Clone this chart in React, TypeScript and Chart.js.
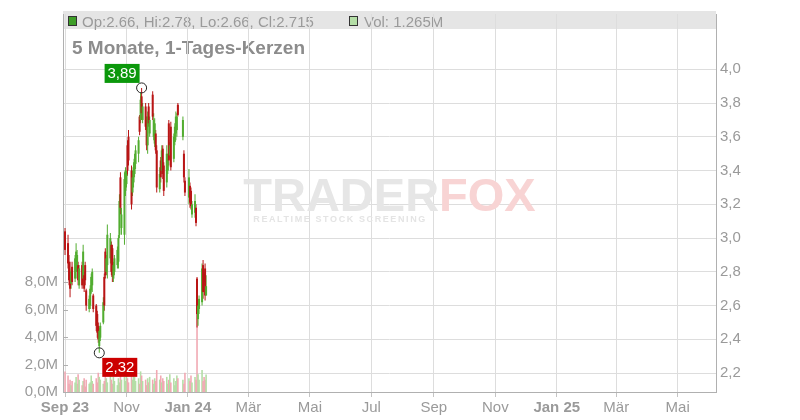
import React, { useEffect, useRef } from "react";
import { Chart, registerables } from "chart.js";

Chart.register(...registerables);

const FONT = "'Liberation Sans', Arial, Helvetica, sans-serif";

const dates = [
  "2023-09-01","2023-09-04","2023-09-05","2023-09-06","2023-09-07","2023-09-08","2023-09-11","2023-09-12","2023-09-13","2023-09-14","2023-09-15","2023-09-18","2023-09-19","2023-09-20","2023-09-21","2023-09-22","2023-09-25","2023-09-26","2023-09-27","2023-09-28","2023-09-29",
  "2023-10-02","2023-10-03","2023-10-04","2023-10-05","2023-10-06","2023-10-09","2023-10-10","2023-10-11","2023-10-12","2023-10-13","2023-10-16","2023-10-17","2023-10-18","2023-10-19","2023-10-20","2023-10-23","2023-10-24","2023-10-25","2023-10-26","2023-10-27","2023-10-30","2023-10-31",
  "2023-11-01","2023-11-02","2023-11-03","2023-11-06","2023-11-07","2023-11-08","2023-11-09","2023-11-10","2023-11-13","2023-11-14","2023-11-15","2023-11-16","2023-11-17","2023-11-20","2023-11-21","2023-11-22","2023-11-23","2023-11-24","2023-11-27","2023-11-28","2023-11-29","2023-11-30",
  "2023-12-01","2023-12-04","2023-12-05","2023-12-06","2023-12-07","2023-12-08","2023-12-11","2023-12-12","2023-12-13","2023-12-14","2023-12-15","2023-12-18","2023-12-19","2023-12-20","2023-12-21","2023-12-22","2023-12-27","2023-12-28","2023-12-29",
  "2024-01-02","2024-01-03","2024-01-04","2024-01-05","2024-01-08","2024-01-09","2024-01-10","2024-01-11","2024-01-12","2024-01-15","2024-01-16","2024-01-17","2024-01-18","2024-01-19",
];

const opens = [
  3.04, 2.97, 2.86, 2.80, 2.73, 2.83, 2.76, 2.80, 2.82, 2.84, 2.72, 2.84, 2.76, 2.78, 2.84, 2.69, 2.58, 2.60, 2.69, 2.72, 2.66,
  2.60, 2.55, 2.48, 2.36, 2.41, 2.50, 2.77, 2.92, 2.80, 2.84, 2.88, 2.96, 2.94, 2.76, 2.80, 2.84, 2.86, 3.02, 3.36, 3.06, 3.02, 3.28,
  3.32, 3.55, 3.60, 3.40, 3.27, 3.33, 3.38, 3.44, 3.50, 3.72, 3.70, 3.84, 3.70, 3.78, 3.70, 3.55, 3.78, 3.62, 3.85, 3.60, 3.56, 3.62,
  3.52, 3.29, 3.46, 3.40, 3.53, 3.43, 3.33, 3.40, 3.68, 3.49, 3.66, 3.47, 3.57, 3.62, 3.64, 3.79, 3.60, 3.50, 3.34,
  3.24, 3.31, 3.28, 3.14, 3.15, 3.18, 2.76, 2.52, 2.58, 2.62, 2.84, 2.79, 2.82, 2.66,
];
const highs = [
  3.06, 3.02, 2.90, 2.86, 2.82, 2.86, 2.90, 2.97, 2.93, 2.86, 2.84, 2.86, 2.96, 2.80, 2.86, 2.70, 2.66, 2.72, 2.79, 2.82, 2.67,
  2.61, 2.57, 2.50, 2.47, 2.50, 2.65, 2.79, 2.94, 2.90, 3.08, 3.03, 2.98, 2.96, 2.86, 2.90, 2.95, 3.02, 3.26, 3.39, 3.18, 3.39, 3.42,
  3.40, 3.58, 3.64, 3.43, 3.40, 3.45, 3.50, 3.55, 3.60, 3.73, 3.86, 3.89, 3.80, 3.80, 3.72, 3.75, 3.80, 3.72, 3.87, 3.74, 3.71, 3.64,
  3.55, 3.42, 3.48, 3.55, 3.55, 3.45, 3.55, 3.50, 3.70, 3.57, 3.69, 3.62, 3.68, 3.75, 3.74, 3.80, 3.72, 3.52, 3.36,
  3.41, 3.33, 3.30, 3.22, 3.26, 3.20, 2.77, 2.63, 2.66, 2.85, 2.87, 2.80, 2.85, 2.78,
];
const lows = [
  2.90, 2.82, 2.72, 2.65, 2.70, 2.72, 2.74, 2.76, 2.80, 2.72, 2.70, 2.70, 2.72, 2.68, 2.72, 2.57, 2.56, 2.58, 2.67, 2.68, 2.56,
  2.45, 2.41, 2.38, 2.32, 2.39, 2.49, 2.57, 2.76, 2.78, 2.76, 2.85, 2.78, 2.74, 2.74, 2.78, 2.82, 2.82, 3.00, 3.14, 3.02, 2.96, 3.25,
  3.30, 3.37, 3.43, 3.17, 3.25, 3.30, 3.36, 3.41, 3.45, 3.61, 3.68, 3.70, 3.68, 3.64, 3.52, 3.50, 3.66, 3.60, 3.70, 3.58, 3.54, 3.50,
  3.27, 3.27, 3.33, 3.38, 3.35, 3.25, 3.30, 3.38, 3.43, 3.47, 3.40, 3.45, 3.55, 3.58, 3.60, 3.72, 3.58, 3.33, 3.25,
  3.20, 3.18, 3.17, 3.12, 3.12, 3.07, 2.47, 2.48, 2.55, 2.60, 2.64, 2.72, 2.63, 2.66,
];
const closes = [
  2.93, 2.85, 2.75, 2.70, 2.80, 2.74, 2.88, 2.92, 2.90, 2.75, 2.82, 2.72, 2.92, 2.70, 2.75, 2.60, 2.64, 2.70, 2.77, 2.80, 2.58,
  2.48, 2.44, 2.40, 2.45, 2.48, 2.62, 2.60, 2.78, 2.88, 3.02, 3.00, 2.80, 2.77, 2.84, 2.88, 2.93, 3.00, 3.22, 3.18, 3.14, 3.35, 3.40,
  3.38, 3.40, 3.46, 3.20, 3.36, 3.42, 3.47, 3.52, 3.58, 3.63, 3.82, 3.74, 3.78, 3.66, 3.55, 3.72, 3.68, 3.70, 3.72, 3.70, 3.68, 3.52,
  3.30, 3.38, 3.36, 3.52, 3.38, 3.28, 3.50, 3.47, 3.46, 3.55, 3.42, 3.60, 3.66, 3.72, 3.72, 3.73, 3.70, 3.36, 3.27,
  3.36, 3.21, 3.19, 3.20, 3.22, 3.09, 2.55, 2.60, 2.64, 2.82, 2.68, 2.74, 2.66, 2.715,
];
// volume in millions
const volumes = [
  1.5, 1.2, 0.6, 0.9, 0.5, 0.8, 0.7, 1.1, 0.6, 1.3, 0.9, 0.5, 0.8, 1.0, 0.4, 0.9, 0.6, 0.7, 1.2, 0.8, 0.6,
  1.0, 0.7, 1.4, 1.1, 0.9, 0.6, 0.8, 1.2, 1.0, 0.7, 1.3, 0.9, 0.6, 1.1, 0.8, 0.5, 1.0, 0.7, 1.2, 0.9, 1.1, 0.8,
  1.4, 1.0, 0.7, 1.2, 0.9, 1.3, 1.1, 0.8, 1.0, 0.6, 1.5, 1.2, 0.8, 0.9, 0.5, 1.0, 0.7, 1.1, 0.9, 0.6, 1.0, 0.8,
  1.6, 0.9, 1.2, 0.7, 1.0, 0.8, 1.1, 0.6, 0.9, 1.3, 0.7, 1.0, 0.5, 0.8, 1.2, 1.0, 0.9, 0.6, 1.4,
  1.0, 0.8, 1.2, 0.7, 1.1, 0.9, 6.5, 1.3, 0.9, 1.6, 0.8, 1.1, 0.9, 1.265,
];

const priceTicks = [2.2, 2.4, 2.6, 2.8, 3.0, 3.2, 3.4, 3.6, 3.8, 4.0];
const volumeTicks = [0, 2, 4, 6, 8];
const monthTickDates = ["2023-09-01","2023-11-01","2024-01-01","2024-03-01","2024-05-01","2024-07-01","2024-09-01","2024-11-01","2025-01-01","2025-03-01","2025-05-01"];
const monthLabels = ["Sep 23","Nov","Jan 24","Mär","Mai","Jul","Sep","Nov","Jan 25","Mär","Mai"];
const TITLE = "5 Monate, 1-Tages-Kerzen";

const X_START = "2023-08-30";
const X_END = "2025-06-08";
const P_MIN = 2.088;
const P_MAX = 4.328;
const VOL_MAX = 27.5;

const UP = "#52ad30";
const DOWN = "#b91515";
const VUP = "#b4dea6";
const VDOWN = "#f1a9b3";

function dayOf(s: string) {
  const [y, m, d] = s.split("-").map(Number);
  return (Date.UTC(y, m - 1, d) - Date.UTC(2023, 8, 1)) / 86400000;
}

function fmtDe(v: number, n: number) {
  return v.toFixed(n).replace(".", ",");
}

export default function App() {
  const ref = useRef<HTMLCanvasElement | null>(null);

  useEffect(() => {
    document.body.style.margin = "0";
    const days = dates.map(dayOf);
    const up = opens.map((o, i) => closes[i] >= o);
    const last = dates.length - 1;

    const overlay = {
      id: "overlay",
      beforeDraw(chart: any) {
        const { ctx, chartArea: a } = chart;
        ctx.save();
        ctx.fillStyle = "#e5e5e5";
        ctx.fillRect(a.left, 11, a.right - a.left, 18);
        ctx.fillStyle = up[last] ? "#3e9e28" : DOWN;
        ctx.fillRect(68.5, 16.5, 8, 9);
        ctx.strokeStyle = "#333";
        ctx.lineWidth = 1;
        ctx.strokeRect(68.5, 16.5, 8, 9);
        ctx.fillStyle = up[last] ? VUP : VDOWN;
        ctx.fillRect(349.5, 16.5, 8, 9);
        ctx.strokeRect(349.5, 16.5, 8, 9);
        ctx.font = `15px ${FONT}`;
        ctx.fillStyle = "#9a9a9a";
        ctx.textBaseline = "alphabetic";
        ctx.textAlign = "left";
        ctx.fillText(
          `Op:${opens[last]}, Hi:${highs[last]}, Lo:${lows[last]}, Cl:${closes[last]}`,
          82,
          26.5
        );
        ctx.fillText(`Vol: ${volumes[last]}M`, 364, 26.5);
        ctx.font = `bold 19px ${FONT}`;
        ctx.fillStyle = "#8c8c8c";
        ctx.fillText(TITLE, 72, 54);
        ctx.restore();
      },
      beforeDatasetsDraw(chart: any) {
        const { ctx, chartArea: a } = chart;
        const cx = (a.left + a.right) / 2;
        ctx.save();
        ctx.font = `bold 47px ${FONT}`;
        ctx.textBaseline = "alphabetic";
        const w1 = ctx.measureText("TRADER").width;
        const w2 = ctx.measureText("FOX").width;
        const x0 = cx - (w1 + w2) / 2;
        ctx.fillStyle = "#e6e6e6";
        ctx.fillText("TRADER", x0, 211);
        ctx.fillStyle = "#f8d4d4";
        ctx.fillText("FOX", x0 + w1, 211);
        ctx.font = `bold 9px ${FONT}`;
        (ctx as any).letterSpacing = "1.6px";
        ctx.fillStyle = "#e4e4e4";
        ctx.fillText("REALTIME STOCK SCREENING", x0 + 10, 222);
        ctx.restore();
      },
      afterDatasetsDraw(chart: any) {
        const { ctx } = chart;
        const xs = chart.scales.x;
        const ys = chart.scales.y;
        const hi = Math.max(...highs);
        const lo = Math.min(...lows);
        const hiI = highs.indexOf(hi);
        const loI = lows.indexOf(lo);
        ctx.save();
        ctx.font = `15px ${FONT}`;
        ctx.textAlign = "center";
        ctx.textBaseline = "middle";
        let px = xs.getPixelForValue(days[hiI]);
        let py = ys.getPixelForValue(hi);
        ctx.beginPath();
        ctx.arc(px, py, 5, 0, Math.PI * 2);
        ctx.strokeStyle = "#222";
        ctx.lineWidth = 1;
        ctx.stroke();
        ctx.fillStyle = "#0b980b";
        ctx.fillRect(px - 37, py - 24, 35, 19);
        ctx.fillStyle = "#ffffff";
        ctx.fillText(fmtDe(hi, 2), px - 19.5, py - 14);
        px = xs.getPixelForValue(days[loI]);
        py = ys.getPixelForValue(lo);
        ctx.beginPath();
        ctx.arc(px, py, 5, 0, Math.PI * 2);
        ctx.strokeStyle = "#222";
        ctx.stroke();
        ctx.fillStyle = "#cc0000";
        ctx.fillRect(px + 3, py + 5, 35, 19);
        ctx.fillStyle = "#ffffff";
        ctx.fillText(fmtDe(lo, 2), px + 20.5, py + 15);
        ctx.restore();
      },
      afterDraw(chart: any) {
        const { ctx, chartArea: a } = chart;
        const vs = chart.scales.yVol;
        ctx.save();
        ctx.strokeStyle = "#b0b0b0";
        ctx.lineWidth = 1;
        volumeTicks.forEach((v) => {
          const y = Math.round(vs.getPixelForValue(v)) + 0.5;
          ctx.beginPath();
          ctx.moveTo(a.left, y);
          ctx.lineTo(a.left + 5, y);
          ctx.stroke();
        });
        ctx.restore();
      },
    };

    Chart.defaults.font.family = FONT;

    const chart = new Chart(ref.current as HTMLCanvasElement, {
      type: "bar",
      data: {
        datasets: [
          {
            label: "Körper",
            data: days.map((x, i) => ({ x, y: [opens[i], closes[i]] })) as any,
            backgroundColor: up.map((u) => (u ? UP : DOWN)),
            barThickness: 2,
            minBarLength: 1,
            inflateAmount: 0,
            grouped: false,
            yAxisID: "y",
            order: 1,
          } as any,
          {
            label: "Docht",
            data: days.map((x, i) => ({ x, y: [lows[i], highs[i]] })) as any,
            backgroundColor: up.map((u) => (u ? UP : DOWN)),
            barThickness: 1,
            inflateAmount: 0,
            grouped: false,
            yAxisID: "y",
            order: 2,
          } as any,
          {
            label: "Volumen",
            data: days.map((x, i) => ({ x, y: volumes[i] })) as any,
            backgroundColor: up.map((u) => (u ? VUP : VDOWN)),
            barThickness: 1.6,
            inflateAmount: 0,
            grouped: false,
            yAxisID: "yVol",
            order: 3,
          } as any,
        ],
      },
      options: {
        responsive: false,
        animation: false,
        devicePixelRatio: 1,
        events: [],
        layout: { padding: { top: 10, left: 0, right: 0, bottom: 0 } },
        plugins: {
          legend: { display: false },
          tooltip: { enabled: false },
          title: { display: false },
        },
        scales: {
          x: {
            type: "linear",
            min: dayOf(X_START),
            max: dayOf(X_END),
            offset: false,
            grid: { offset: false, color: "#dddddd", tickLength: 5, tickColor: "#c4c4c4" },
            border: { color: "#b0b0b0" },
            afterBuildTicks: (s: any) => {
              s.ticks = monthTickDates.map((d) => ({ value: dayOf(d) }));
            },
            afterFit: (s: any) => {
              s.height = 28;
            },
            ticks: {
              autoSkip: false,
              maxRotation: 0,
              minRotation: 0,
              padding: 2,
              color: "#9a9a9a",
              font: (ctx: any) => ({
                family: FONT,
                size: 15,
                weight: (monthLabels[ctx.index] || "").includes(" ") ? "bold" : "normal",
              }),
              callback: (_v: any, i: number) => monthLabels[i],
            },
          } as any,
          y: {
            type: "linear",
            position: "right",
            min: P_MIN,
            max: P_MAX,
            grid: { color: "#dddddd", drawTicks: false },
            border: { color: "#b0b0b0" },
            afterBuildTicks: (s: any) => {
              s.ticks = priceTicks.map((v) => ({ value: v }));
            },
            afterFit: (s: any) => {
              s.width = 84;
            },
            ticks: {
              padding: 4,
              color: "#9a9a9a",
              font: { size: 15, family: FONT },
              callback: (v: any) => fmtDe(Number(v), 1),
            },
          } as any,
          yVol: {
            type: "linear",
            position: "left",
            min: 0,
            max: VOL_MAX,
            grid: { display: false, drawTicks: false },
            border: { color: "#b0b0b0" },
            afterBuildTicks: (s: any) => {
              s.ticks = volumeTicks.map((v) => ({ value: v }));
            },
            afterFit: (s: any) => {
              s.width = 63;
            },
            ticks: {
              padding: 5,
              color: "#9a9a9a",
              font: { size: 15, family: FONT },
              callback: (v: any) => fmtDe(Number(v), 1) + "M",
            },
          } as any,
        },
      },
      plugins: [overlay as any],
    });

    return () => chart.destroy();
  }, []);

  return <canvas ref={ref} width={800} height={420} style={{ display: "block" }} />;
}
